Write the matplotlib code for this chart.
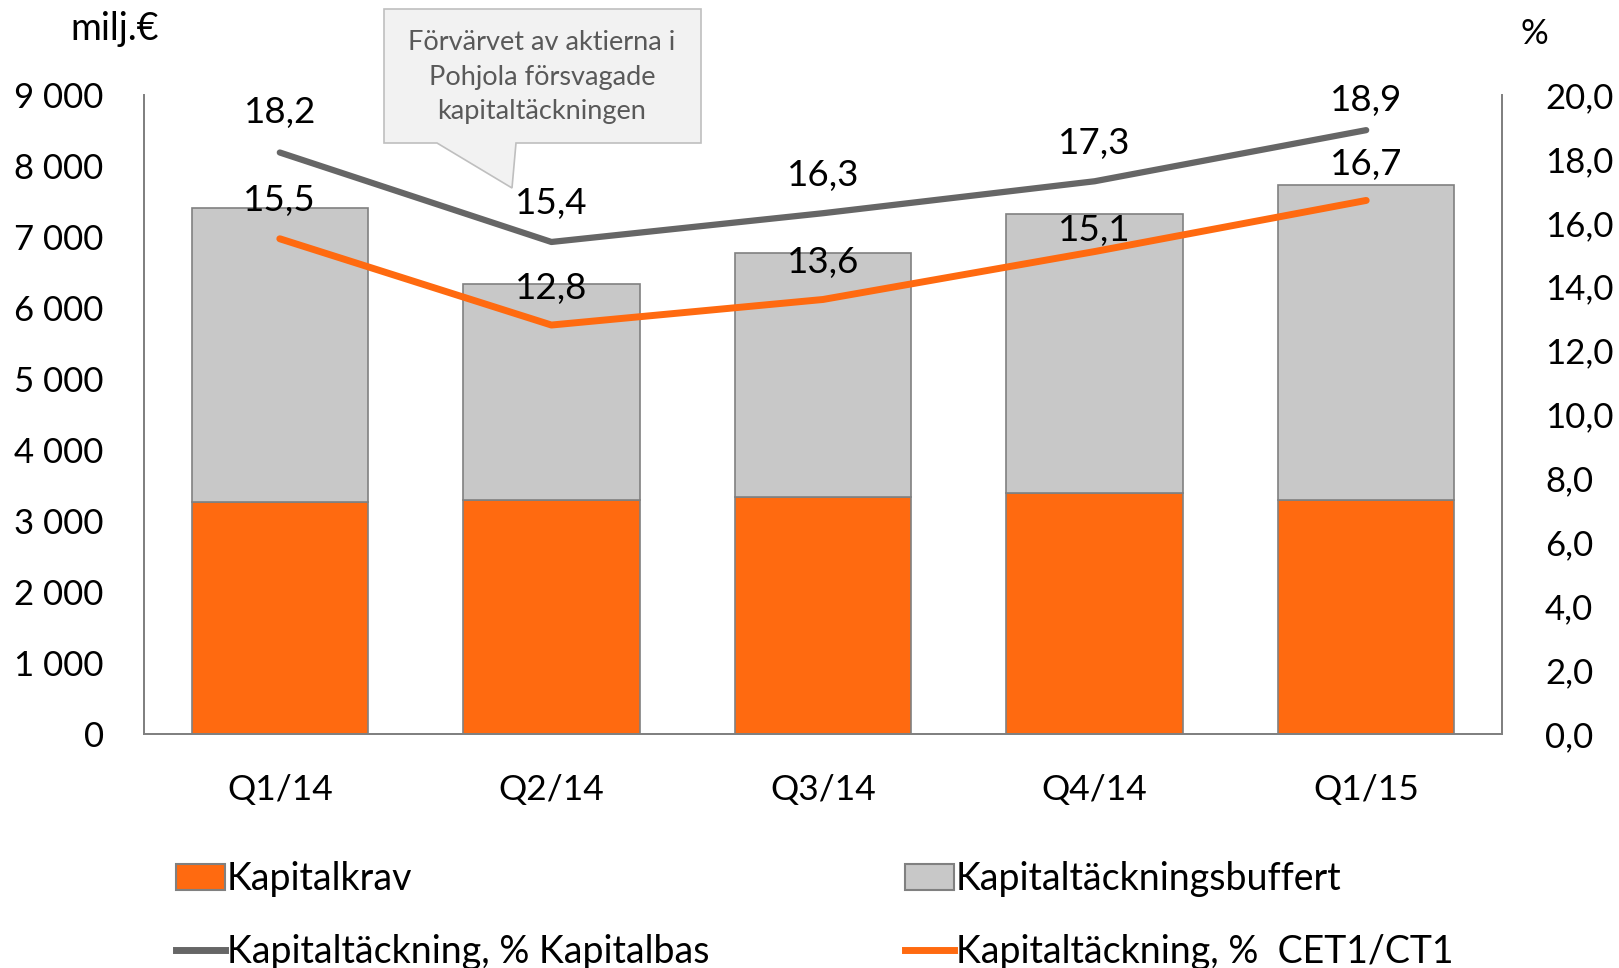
import matplotlib.pyplot as plt
from matplotlib.patches import Polygon, Patch
from matplotlib.lines import Line2D

plt.rcParams['font.family'] = ['Lato', 'DejaVu Sans']

kvartal = ['Q1/14', 'Q2/14', 'Q3/14', 'Q4/14', 'Q1/15']
kapitalkrav = [3270, 3300, 3345, 3390, 3300]
buffert = [4145, 3040, 3430, 3940, 4435]
kapitalbas_pct = [18.2, 15.4, 16.3, 17.3, 18.9]
cet1_pct = [15.5, 12.8, 13.6, 15.1, 16.7]

# label offsets (pixels above the point)
off_bas = [40, 38, 38, 38, 30]
off_cet1 = [38, 37, 37, 21, 36]

ORANGE = '#FF6A10'
GRAY_BAR = '#C8C8C8'
GRAY_LINE = '#666666'
EDGE = '#808080'

fig = plt.figure(figsize=(16.19, 9.68), dpi=100)
ax = fig.add_axes([144 / 1619, 1 - 734 / 968, (1502 - 144) / 1619, (734 - 95) / 968])
ax2 = ax.twinx()

x = list(range(len(kvartal)))
ax.bar(x, kapitalkrav, width=0.65, color=ORANGE, edgecolor=EDGE, linewidth=1.2)
ax.bar(x, buffert, width=0.65, bottom=kapitalkrav, color=GRAY_BAR, edgecolor=EDGE, linewidth=1.2)

ax2.plot(x, kapitalbas_pct, color=GRAY_LINE, lw=4.5, solid_capstyle='round')
ax2.plot(x, cet1_pct, color=ORANGE, lw=5, solid_capstyle='round')

for i, v in enumerate(kapitalbas_pct):
    ax2.annotate(f'{v:.1f}'.replace('.', ','), (i, v), xytext=(0, off_bas[i]),
                 textcoords='offset pixels', ha='center', va='center', fontsize=26.5)
for i, v in enumerate(cet1_pct):
    ax2.annotate(f'{v:.1f}'.replace('.', ','), (i, v), xytext=(0, off_cet1[i]),
                 textcoords='offset pixels', ha='center', va='center', fontsize=26.5)

ax.set_xlim(-0.5, 4.5)
ax.set_ylim(0, 9000)
ax2.set_ylim(0, 20)
ax.set_yticks(range(0, 9001, 1000))
ax.set_yticklabels([f'{v:,}'.replace(',', ' ') for v in range(0, 9001, 1000)])
ax2.set_yticks(range(0, 21, 2))
ax2.set_yticklabels([f'{v:.1f}'.replace('.', ',') for v in range(0, 21, 2)])
ax.set_xticks(x)
ax.set_xticklabels(kvartal)

ax.tick_params(axis='y', length=0, pad=29, labelsize=25)
ax.tick_params(axis='x', length=0, pad=29, labelsize=25.5)
ax2.tick_params(axis='y', length=0, pad=31, labelsize=25)

for a in (ax, ax2):
    a.spines['top'].set_visible(False)
    for s in ('left', 'right', 'bottom'):
        a.spines[s].set_color(EDGE)
        a.spines[s].set_linewidth(1.3)

fig.text(115 / 1619, 1 - 29 / 968, 'milj.€', ha='center', va='center', fontsize=27)
fig.text(1534 / 1619, 1 - 34 / 968, '%', ha='center', va='center', fontsize=25)

# callout box
pts = [(384, 9), (701, 9), (701, 143), (516, 143), (512, 188), (437, 143), (384, 143)]
fig.patches.append(Polygon([(px / 1619, 1 - py / 968) for px, py in pts], closed=True,
                           transform=fig.transFigure, facecolor='#F2F2F2',
                           edgecolor='#BFBFBF', linewidth=1.2))
fig.text(542 / 1619, 1 - 77 / 968, 'Förvärvet av aktierna i\nPohjola försvagade\nkapitaltäckningen',
         ha='center', va='center', fontsize=19.5, color='#595959', linespacing=1.45)

leg_font = {'family': ['Lato', 'DejaVu Sans'], 'size': 27}
h_krav = Patch(facecolor=ORANGE, edgecolor=EDGE, linewidth=1.5)
h_buff = Patch(facecolor=GRAY_BAR, edgecolor=EDGE, linewidth=1.5)
h_bas = Line2D([], [], color=GRAY_LINE, lw=5)
h_cet1 = Line2D([], [], color=ORANGE, lw=5)

fig.legend(handles=[h_krav, h_bas], labels=['Kapitalkrav', 'Kapitaltäckning, % Kapitalbas'],
           loc='upper left', bbox_to_anchor=(176 / 1619, 1 - 861 / 968), frameon=False,
           prop=leg_font, handlelength=1.3, handletextpad=0.05, labelspacing=0.98,
           borderpad=0, borderaxespad=0)
fig.legend(handles=[h_buff, h_cet1], labels=['Kapitaltäckningsbuffert', 'Kapitaltäckning, %  CET1/CT1'],
           loc='upper left', bbox_to_anchor=(905 / 1619, 1 - 861 / 968), frameon=False,
           prop=leg_font, handlelength=1.3, handletextpad=0.05, labelspacing=0.98,
           borderpad=0, borderaxespad=0)

fig.savefig('out.png', dpi=100)
